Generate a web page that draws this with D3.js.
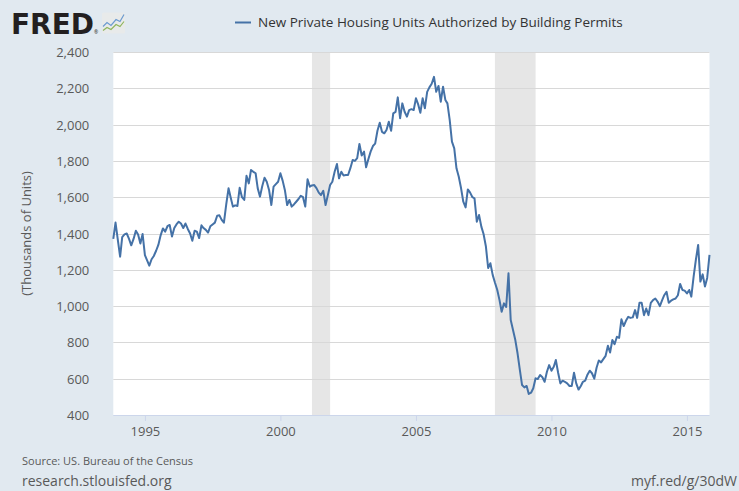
<!DOCTYPE html>
<html>
<head>
<meta charset="utf-8">
<script src="https://cdn.jsdelivr.net/npm/d3@7"></script>
<style>
  html, body { margin: 0; padding: 0; background: #e1e9f0; }
  svg { display: block; font-family: "Open Sans", sans-serif; }
</style>
</head>
<body>
<svg id="chart" width="739" height="491"></svg>
<script>
// ---------- data ----------
const seriesName = "New Private Housing Units Authorized by Building Permits";
const startMonth = "1993-11-01";
const endMonth = "2015-11-01";
const permits = [
  1370,1460,1365,1272,1380,1395,1400,1370,1335,1370,1415,1395,1345,1397,1281,1250,1223,1258,1276,1305,
  1337,1390,1428,1410,1440,1447,1383,1430,1450,1465,1455,1430,1455,1425,1400,1360,1415,1410,1375,1445,
  1430,1420,1405,1440,1450,1460,1498,1500,1475,1460,1560,1649,1600,1548,1555,1552,1652,1600,1585,1718,
  1676,1750,1740,1732,1650,1603,1660,1707,1685,1640,1557,1658,1672,1685,1732,1690,1640,1557,1585,1548,
  1560,1575,1590,1608,1600,1548,1699,1658,1665,1667,1650,1625,1612,1635,1557,1610,1667,1685,1740,1783,
  1704,1740,1720,1722,1722,1760,1805,1800,1815,1893,1830,1851,1765,1810,1851,1882,1895,1966,2010,1960,
  1952,1970,2016,1966,2062,2070,2150,2035,2117,2071,2044,2080,2085,2080,2145,2110,2065,2145,2090,2180,
  2205,2225,2263,2181,2213,2126,2209,2136,2117,2025,1906,1869,1759,1713,1649,1575,1544,1643,1625,1600,
  1594,1465,1502,1438,1397,1330,1210,1236,1172,1130,1090,1033,969,1015,995,1181,923,868,813,740,
  648,565,552,560,516,523,547,602,598,620,608,583,638,675,644,666,703,633,574,589,
  583,574,560,560,633,574,540,560,583,589,622,644,630,600,660,700,690,708,726,781,
  744,813,790,831,825,927,890,919,941,935,938,978,935,1018,1018,950,987,950,1018,1033,
  1042,1025,1000,1033,1060,1079,1018,1030,1037,1042,1060,1122,1089,1085,1070,1089,1052,1162,1254,1337,
  1135,1175,1108,1155,1282
];
const recessions = [["2001-03-01","2001-11-01"],["2007-12-01","2009-06-01"]];
const yTicks = [400,600,800,1000,1200,1400,1600,1800,2000,2200,2400];
const xTickYears = [1995,2000,2005,2010,2015];
const yTitle = "(Thousands of Units)";
const sourceText = "Source: US. Bureau of the Census";
const siteText = "research.stlouisfed.org";
const linkText = "myf.red/g/30dW";

// ---------- layout ----------
const svg = d3.select("#chart");
const plot = {left: 113.3, right: 709.5, top: 52, bottom: 415};
const parse = d3.utcParse("%Y-%m-%d");
const dates = d3.utcMonth.range(parse(startMonth), d3.utcMonth.offset(parse(endMonth), 1));
const data = dates.map((d, i) => ({date: d, value: permits[i]})).filter(d => d.value != null);

const x = d3.scaleUtc().domain([parse(startMonth), parse(endMonth)]).range([plot.left, plot.right]);
const y = d3.scaleLinear().domain([400, 2400]).range([plot.bottom, plot.top]);

// background
svg.append("rect").attr("width", 739).attr("height", 491).attr("fill", "#e1e9f0");
svg.append("rect")
  .attr("x", plot.left).attr("y", plot.top)
  .attr("width", plot.right - plot.left).attr("height", plot.bottom - plot.top)
  .attr("fill", "#ffffff");

// recession shading
svg.append("g").selectAll("rect").data(recessions).join("rect")
  .attr("x", d => x(parse(d[0])))
  .attr("width", d => x(parse(d[1])) - x(parse(d[0])))
  .attr("y", plot.top).attr("height", plot.bottom - plot.top)
  .attr("fill", "#e6e6e6");

// gridlines
svg.append("g").selectAll("line").data(yTicks.filter(t => t > 400)).join("line")
  .attr("x1", plot.left).attr("x2", plot.right)
  .attr("y1", d => Math.round(y(d)) + 0.5).attr("y2", d => Math.round(y(d)) + 0.5)
  .attr("stroke", "#d8d8d8").attr("stroke-width", 1);

// y axis labels
const yAxis = d3.axisLeft(y).tickValues(yTicks).tickSize(0).tickPadding(0)
  .tickFormat(d3.format(","));
const gy = svg.append("g").attr("transform", `translate(${plot.left - 24},0)`).call(yAxis);
gy.select(".domain").remove();
gy.selectAll("text").attr("font-size", 13).attr("fill", "#595959")
  .attr("font-family", "Open Sans, sans-serif").attr("dy", "0.35em");

// x axis
const xAxis = d3.axisBottom(x)
  .tickValues(xTickYears.map(yr => new Date(Date.UTC(yr, 0, 1))))
  .tickSize(6).tickPadding(6).tickFormat(d3.utcFormat("%Y"));
const gx = svg.append("g").attr("transform", `translate(0,${plot.bottom})`).call(xAxis);
gx.select(".domain").attr("stroke", "#ccd6eb").attr("d", `M${plot.left},0.5H${plot.right}`);
gx.selectAll(".tick line").attr("stroke", "#ccd6eb");
gx.selectAll("text").attr("font-size", 13).attr("fill", "#595959")
  .attr("font-family", "Open Sans, sans-serif");

// y title
svg.append("text")
  .attr("transform", `translate(31,${(plot.top + plot.bottom) / 2}) rotate(-90)`)
  .attr("text-anchor", "middle").attr("font-size", 13).attr("fill", "#595959")
  .text(yTitle);

// series line
svg.append("path").datum(data)
  .attr("fill", "none").attr("stroke", "#4572a7").attr("stroke-width", 2)
  .attr("stroke-linejoin", "round")
  .attr("d", d3.line().x(d => x(d.date)).y(d => y(d.value)));

// legend
svg.append("line").attr("x1", 235).attr("x2", 251).attr("y1", 22.5).attr("y2", 22.5)
  .attr("stroke", "#4572a7").attr("stroke-width", 2);
svg.append("text").attr("x", 258).attr("y", 27).attr("font-size", 13.5)
  .attr("fill", "#333333").text(seriesName);

// FRED logo
svg.append("text").attr("x", 11).attr("y", 33.5)
  .attr("font-family", "DejaVu Sans, sans-serif").attr("font-weight", "bold")
  .attr("font-size", 28).attr("fill", "#231f20")
  .attr("textLength", 83).attr("lengthAdjust", "spacingAndGlyphs")
  .text("FRED");
svg.append("text").attr("x", 94).attr("y", 33.5).attr("font-size", 5).attr("fill", "#231f20").text("®");
const logo = svg.append("g").attr("transform", "translate(102,12.5)");
logo.append("rect").attr("width", 23).attr("height", 21).attr("rx", 1.5).attr("fill", "#e8eaea");
logo.append("polyline").attr("points", "1,14 5,10 9,13 14,7 18,9 22,2")
  .attr("fill", "none").attr("stroke", "#6a9ad0").attr("stroke-width", 1.2);
logo.append("polyline").attr("points", "1,18 5,15 9,17 14,12 18,14 22,9")
  .attr("fill", "none").attr("stroke", "#8fb55c").attr("stroke-width", 1.2);

// footer
svg.append("text").attr("x", 22).attr("y", 465).attr("font-size", 11)
  .attr("fill", "#595959").text(sourceText);
svg.append("text").attr("x", 22).attr("y", 486).attr("font-size", 14)
  .attr("fill", "#595959").text(siteText);
svg.append("text").attr("x", 737).attr("y", 486).attr("font-size", 14)
  .attr("text-anchor", "end").attr("fill", "#595959").text(linkText);
</script>
</body>
</html>
